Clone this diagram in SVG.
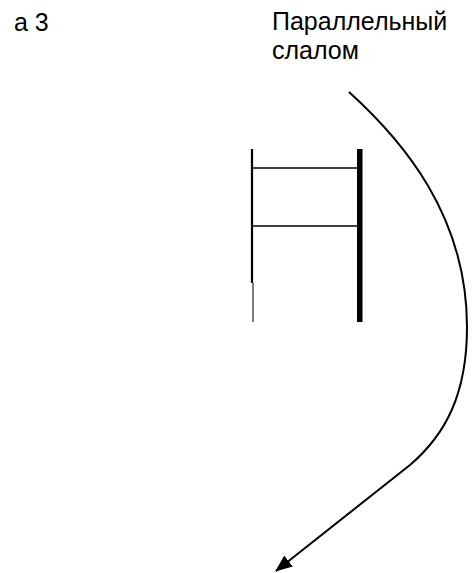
<svg xmlns="http://www.w3.org/2000/svg" width="475" height="573" viewBox="0 0 475 573">
<style>
text{font-family:"Liberation Sans",Arial,sans-serif;font-size:25px;fill:#000}
.ln{stroke:#000;fill:none}
</style>
<defs>
<marker id="ah" markerWidth="17" markerHeight="14" refX="16" refY="7" orient="auto" markerUnits="userSpaceOnUse">
<path d="M0,0 L17,7 L0,14 Z" fill="#000"/>
</marker>
</defs>
<rect width="475" height="573" fill="#fff"/>
<g id="label-a3"><text x="14" y="31">а 3</text></g>
<g id="label-title"><text x="272" y="30">Параллельный</text><text x="272" y="59">слалом</text></g>
<g id="gates">
<line class="ln" x1="252" y1="149" x2="252" y2="283" stroke-width="2.2"/>
<line class="ln" x1="253" y1="283" x2="253" y2="322" stroke-width="1"/>
<line class="ln" x1="253" y1="168" x2="357" y2="168" stroke-width="1.5"/>
<line class="ln" x1="253" y1="226" x2="357" y2="226" stroke-width="1.5"/>
<rect x="357" y="149" width="5.5" height="173" fill="#000"/>
</g>
<g id="connectors">
<path class="ln" stroke-width="2" d="M349,92 C402,140 467,215 467,327 C467,395 445,435 410,465 L276,571" marker-end="url(#ah)"/>
</g>
</svg>
